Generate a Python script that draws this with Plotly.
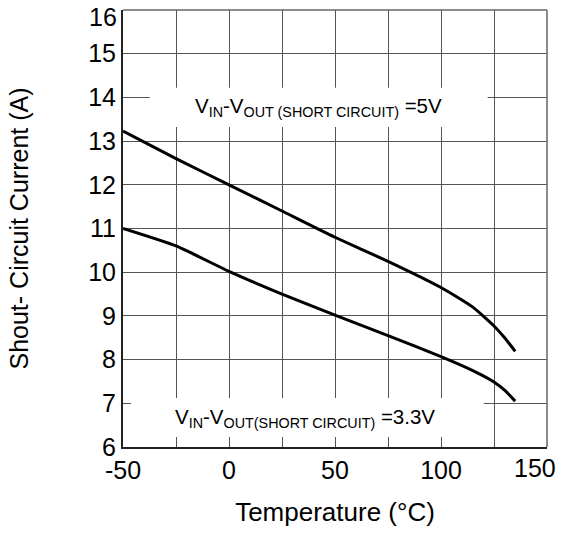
import plotly.graph_objects as go

# Data
temp_5v = [-50, -25, 0, 25, 50, 75, 100, 115, 125, 130, 135]
curr_5v = [13.23, 12.6, 12.0, 11.4, 10.8, 10.25, 9.65, 9.2, 8.77, 8.5, 8.19]

temp_33v = [-50, -25, 0, 25, 50, 75, 100, 115, 125, 130, 135]
curr_33v = [11.0, 10.6, 10.02, 9.5, 9.02, 8.55, 8.07, 7.75, 7.49, 7.3, 7.05]

x_ticks = [-50, 0, 50, 100]
x_last = 150
y_ticks = [6, 7, 8, 9, 10, 11, 12, 13, 14, 15]
y_last = 16

FONT = "Liberation Sans, Arial, sans-serif"

fig = go.Figure()
for xs, ys in [(temp_5v, curr_5v), (temp_33v, curr_33v)]:
    fig.add_trace(go.Scatter(x=xs, y=ys, mode="lines",
                             line=dict(color="black", width=3, shape="spline", smoothing=0.5),
                             showlegend=False, hoverinfo="skip"))

# white label boxes hiding the grid
fig.add_shape(type="rect", xref="x", yref="y", x0=-37.4, x1=122, y0=13.32, y1=14.22,
              fillcolor="white", line=dict(width=0), layer="between")
fig.add_shape(type="rect", xref="x", yref="y", x0=-46.2, x1=120.2, y0=6.23, y1=7.12,
              fillcolor="white", line=dict(width=0), layer="between")
# gray top/right border
fig.add_shape(type="line", xref="paper", yref="paper", x0=0, x1=1, y0=1, y1=1,
              line=dict(color="#666", width=1.5))
fig.add_shape(type="line", xref="paper", yref="paper", x0=1, x1=1, y0=0, y1=1,
              line=dict(color="#666", width=1.5))

fig.add_annotation(x=42, y=13.78, xref="x", yref="y", showarrow=False,
                   text="V<sub>IN</sub>-V<sub>OUT (SHORT CIRCUIT)</sub> =5V",
                   font=dict(family=FONT, size=20.5, color="black"))
fig.add_annotation(x=36, y=6.66, xref="x", yref="y", showarrow=False,
                   text="V<sub>IN</sub>-V<sub>OUT(SHORT CIRCUIT)</sub> =3.3V",
                   font=dict(family=FONT, size=20.5, color="black"))

# end tick labels, nudged inside the page as in the reference
fig.add_annotation(x=x_last, xref="x", y=0, yref="paper", showarrow=False,
                   text=str(x_last), xanchor="center", yanchor="middle",
                   xshift=-12, yshift=-21,
                   font=dict(family=FONT, size=25, color="black"))
fig.add_annotation(x=0, xref="paper", y=y_last, yref="y", showarrow=False,
                   text=str(y_last), xanchor="right", yanchor="middle",
                   xshift=-4, yshift=-7,
                   font=dict(family=FONT, size=25, color="black"))

fig.update_xaxes(range=[-50, 150], tickvals=x_ticks, ticktext=[str(v) for v in x_ticks],
                 tickmode="array", ticklabeloverflow="allow", automargin=False,
                 showgrid=True, gridcolor="#555", gridwidth=1.3,
                 showline=True, linecolor="#222", linewidth=2,
                 ticks="", zeroline=False,
                 tickfont=dict(family=FONT, size=25, color="black"),
                 title=dict(text="Temperature (°C)", font=dict(family=FONT, size=26, color="black"),
                            standoff=20))
fig.update_xaxes(minor=dict(tickvals=[-25, 25, 75, 125], showgrid=True, gridcolor="#555", gridwidth=1.3))
fig.update_yaxes(range=[6, 16], tickvals=y_ticks, ticktext=[str(v) for v in y_ticks],
                 tickmode="array", ticklabeloverflow="allow", automargin=False,
                 showgrid=True, gridcolor="#555", gridwidth=1.3,
                 showline=True, linecolor="#222", linewidth=2,
                 ticks="", zeroline=False,
                 tickfont=dict(family=FONT, size=25, color="black"),
                 title=dict(text="Shout- Circuit Current (A)", font=dict(family=FONT, size=25, color="black"),
                            standoff=52))

fig.update_layout(width=561, height=535, plot_bgcolor="white", paper_bgcolor="white",
                  margin=dict(l=123, r=14, t=10, b=88))

fig.write_html("out.html")
